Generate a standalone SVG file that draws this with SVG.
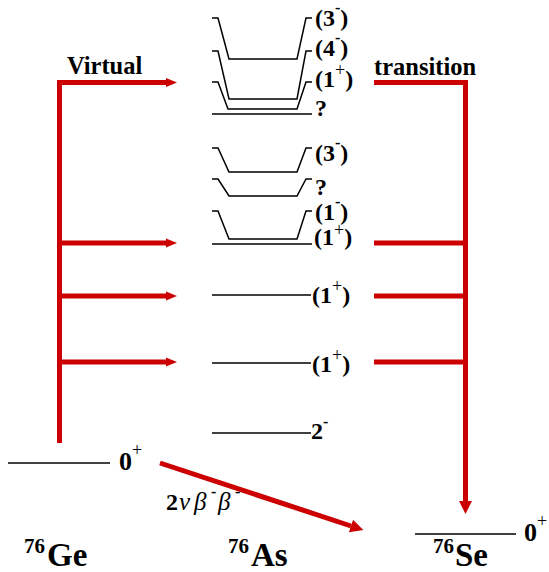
<svg xmlns="http://www.w3.org/2000/svg" width="549" height="572" viewBox="0 0 549 572">
<defs>
<style>
.lv{fill:none;stroke:#000;stroke-width:1.5}
.t{font-family:"Liberation Serif","Times New Roman",serif;font-weight:bold;fill:#000}
.lab{font-size:24px}
.big{font-size:33px}
.sm{font-size:16px}
.pl{font-size:18px;font-weight:normal}
.iso{font-size:21px}
.hd{font-size:24.5px}
.gr{font-style:italic;font-weight:normal;font-size:25px}
.red{fill:none;stroke:#cc0000;stroke-width:5;stroke-linejoin:miter;stroke-linecap:butt}
</style>
<marker id="ah" markerUnits="userSpaceOnUse" markerWidth="14" markerHeight="12" refX="0" refY="6" orient="auto" viewBox="0 0 14 12">
<path d="M0,1.5 L11,6 L0,10.5z" fill="#cc0000"/>
</marker>
<marker id="ah2" markerUnits="userSpaceOnUse" markerWidth="14" markerHeight="14" refX="0" refY="7" orient="auto" viewBox="0 0 14 14">
<path d="M0,0.5 L13,7 L0,13.5z" fill="#cc0000"/>
</marker>
</defs>
<rect width="549" height="572" fill="#fff"/>

<g id="connectors">
<path class="red" d="M59.5,443 V82.5 H166" marker-end="url(#ah)"/>
<path class="red" d="M59.5,243 H166" marker-end="url(#ah)"/>
<path class="red" d="M59.5,296 H166" marker-end="url(#ah)"/>
<path class="red" d="M59.5,362 H166" marker-end="url(#ah)"/>
<path class="red" d="M374,82.5 H465.5 V501" marker-end="url(#ah2)"/>
<path class="red" d="M374,243 H465.5"/>
<path class="red" d="M374,296 H465.5"/>
<path class="red" d="M374,362 H465.5"/>
<path class="red" d="M160,463 L351,526" marker-end="url(#ah2)"/>
</g>

<g id="labels-virtual">
<text class="t hd" x="67" y="74">Virtual</text>
<text class="t hd" x="374" y="75">transition</text>
</g>

<g id="ge76">
<line class="lv" x1="8" y1="463" x2="110" y2="463"/>
<text class="t" x="119" y="470" font-size="26">0<tspan class="pl" dy="-14">+</tspan></text>
<text class="t" x="24" y="553"><tspan class="iso">76</tspan><tspan class="big" x="47" y="566">Ge</tspan></text>
</g>

<g id="se76">
<line class="lv" x1="415" y1="534" x2="516" y2="534"/>
<text class="t" x="524" y="541" font-size="26">0<tspan class="pl" dy="-14">+</tspan></text>
<text class="t" x="433" y="553"><tspan class="iso">76</tspan><tspan class="big" x="455" y="566">Se</tspan></text>
</g>

<g id="as76">
<text class="t" x="228" y="553"><tspan class="iso">76</tspan><tspan class="big" x="251" y="566">As</tspan></text>
</g>

<g id="decay-label">
<text class="t" x="166" y="510" font-size="24">2<tspan class="gr" x="179">ν</tspan><tspan class="gr" x="194">β</tspan><tspan class="sm" x="211" dy="-13">-</tspan><tspan class="gr" x="218" dy="13">β</tspan><tspan class="sm" x="235" dy="-13">-</tspan></text>
</g>

<g id="as-3m-top">
<path class="lv" d="M212,18 H218 L229,59 H297 L306,18 H312"/>
<text class="t lab" x="315" y="26">(3<tspan class="sm" dy="-13">-</tspan><tspan dy="13">)</tspan></text>
</g>
<g id="as-4m">
<path class="lv" d="M212,51 H218 L229,99 H297 L306,51 H312"/>
<text class="t lab" x="315" y="56">(4<tspan class="sm" dy="-13">-</tspan><tspan dy="13">)</tspan></text>
</g>
<g id="as-1p-top">
<path class="lv" d="M212,82 H218 L228,109 H297 L306,82 H312"/>
<text class="t lab" x="315" y="87">(1<tspan class="pl" dy="-11">+</tspan><tspan dy="11">)</tspan></text>
</g>
<g id="as-q1">
<line class="lv" x1="212" y1="114" x2="312" y2="114"/>
<text class="t lab" x="315" y="116">?</text>
</g>
<g id="as-3m-mid">
<path class="lv" d="M212,148 H218 L229,172 H297 L306,148 H312"/>
<text class="t lab" x="315" y="161">(3<tspan class="sm" dy="-13">-</tspan><tspan dy="13">)</tspan></text>
</g>
<g id="as-q2">
<path class="lv" d="M212,179 H218 L229,196 H297 L306,179 H312"/>
<text class="t lab" x="315" y="195">?</text>
</g>
<g id="as-1m">
<path class="lv" d="M212,211 H218 L229,239 H297 L306,211 H312"/>
<text class="t lab" x="315" y="220">(1<tspan class="sm" dy="-13">-</tspan><tspan dy="13">)</tspan></text>
</g>
<g id="as-1p-a">
<line class="lv" x1="212" y1="244" x2="312" y2="244"/>
<text class="t lab" x="314" y="245">(1<tspan class="pl" font-size="16" dy="-9">+</tspan><tspan dy="9">)</tspan></text>
</g>
<g id="as-1p-b">
<line class="lv" x1="212" y1="295" x2="311" y2="295"/>
<text class="t lab" x="312" y="303">(1<tspan class="pl" dy="-11">+</tspan><tspan dy="11">)</tspan></text>
</g>
<g id="as-1p-c">
<line class="lv" x1="212" y1="363" x2="311" y2="363"/>
<text class="t lab" x="312" y="372">(1<tspan class="pl" dy="-11">+</tspan><tspan dy="11">)</tspan></text>
</g>
<g id="as-2m">
<line class="lv" x1="212" y1="433" x2="311" y2="433"/>
<text class="t lab" x="311" y="439">2<tspan class="sm" dy="-12">-</tspan></text>
</g>
</svg>
